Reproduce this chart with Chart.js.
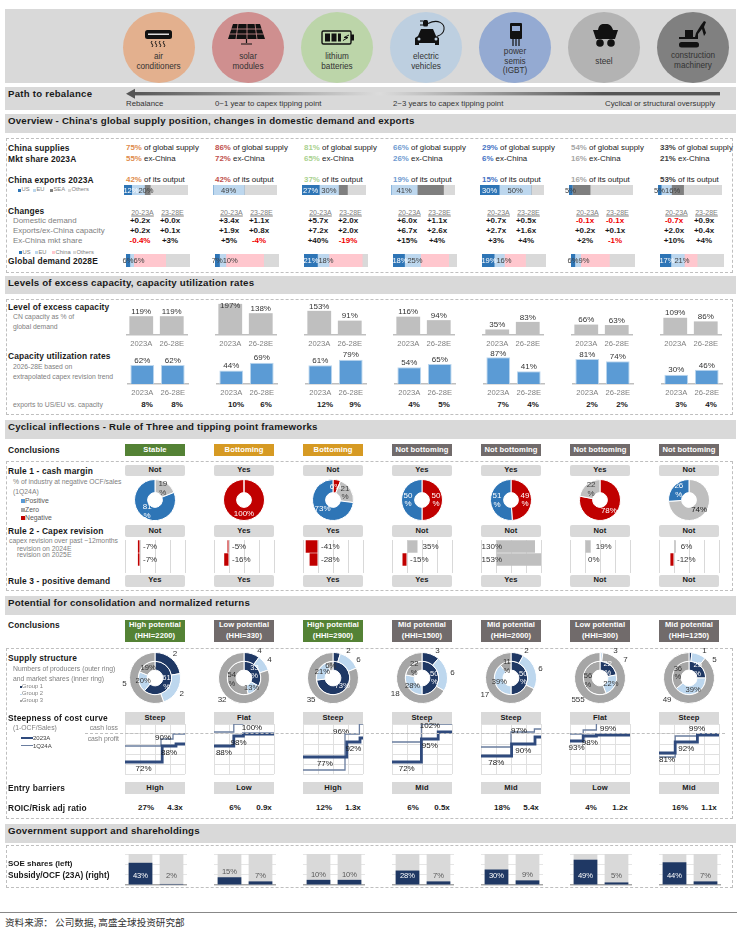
<!DOCTYPE html>
<html>
<head>
<meta charset="utf-8">
<script src="https://cdn.jsdelivr.net/npm/chart.js@4/dist/chart.umd.min.js"></script>
<style>
html,body{margin:0;padding:0;background:#fff}
#page{position:relative;width:740px;height:934px;overflow:hidden;font-family:"Liberation Sans",Arial,sans-serif;color:#1a1a1a}
#page div{position:absolute}
.t{white-space:pre;transform:translateY(-50%);font-size:8.5px;line-height:1}
.c{transform:translate(-50%,-50%);text-align:center}
.r{transform:translate(-100%,-50%)}
.b{font-weight:bold}
.head{font-weight:bold;font-size:8.4px;letter-spacing:.15px}
.path{font-weight:bold;font-size:9.6px;letter-spacing:.25px}
.band{font-weight:bold;font-size:9.7px;letter-spacing:.2px}
.grey{color:#808080;font-size:6.8px}
.tiny{color:#808080;font-size:5.8px}
.box{display:flex;align-items:center;justify-content:center;font-weight:bold;font-size:7.6px;letter-spacing:.1px;text-align:center;line-height:1.4}
.dash{border:1.5px dashed #bfbfbf;box-sizing:border-box}
canvas{position:absolute}
svg{position:absolute;overflow:visible}
</style>
</head>
<body>
<div id="page"></div>
<script>
// industries
const industries = ['air\nconditioners','solar\nmodules','lithium\nbatteries','electric\nvehicles','power\nsemis\n(IGBT)','steel','construction\nmachinery'];
const circleColors = ['#e3b08e','#cf8f8f','#bcd5a9','#bdcfe0','#94aad2','#b3b3b3','#808080'];
const shareColors = ['#e08b4c','#c0504d','#a9d18e','#6f9bd1','#4472c4','#a6a6a6','#404040'];

// overview
const supplyGlobal = [75,86,81,66,29,54,33];
const supplyExChina = [55,72,65,26,6,16,21];
const exportOutput = [42,42,37,19,15,16,53];
const exportUS = [12,0,27,0,30,5,5];
const exportEU = [20,49,30,41,50,0,16];
const exportSEA = [9,0,14,41,0,28,19];
const exportOthers = [59,51,29,18,20,67,60];
const domesticDemand = [['+0.2x','+0.0x'],['+3.4x','+1.1x'],['+5.7x','+2.0x'],['+6.0x','+1.1x'],['+0.7x','+0.5x'],['-0.1x','-0.1x'],['-0.7x','+0.9x']];
const exportsCapacity = [['+0.2x','+0.1x'],['+1.9x','+0.8x'],['+7.2x','+2.0x'],['+6.7x','+2.6x'],['+2.7x','+1.6x'],['+0.2x','+0.1x'],['+2.0x','+0.4x']];
const exChinaShare = [['-0.4%','+3%'],['+5%','-4%'],['+40%','-19%'],['+15%','+4%'],['+3%','+4%'],['+2%','-1%'],['+10%','+4%']];
const demandUS = [6,7,21,18,19,6,17];
const demandEU = [6,10,18,25,16,9,21];
const demandChina = [50,59,52,44,33,45,20];
const demandOthers = [38,24,9,13,32,40,42];

// excess capacity
const periods = ['2023A','26-28E'];
const excessCapacity = [[119,119],[197,138],[153,91],[116,94],[35,83],[66,63],[109,86]];
const utilization = [[62,62],[44,69],[61,79],[54,65],[87,41],[81,74],[30,46]];
const exportsVsCapacity = [[8,8],[10,6],[12,9],[4,5],[7,4],[2,2],[3,4]];

// cyclical inflections
const cycleConclusions = ['Stable','Bottoming','Bottoming','Not bottoming','Not bottoming','Not bottoming','Not bottoming'];
const rule1 = ['Not','Yes','Not','Yes','Yes','Yes','Not'];
const rule2 = ['Not','Yes','Yes','Not','Not','Not','Not'];
const rule3 = ['Yes','Yes','Yes','Yes','Yes','Not','Not'];
const marginNegative = [0,100,6,50,49,78,0];
const marginZero = [19,0,21,0,0,22,74];
const marginPositive = [81,0,73,50,51,0,26];
const marginLabels = [['','19\n%','81\n%'],['100%','',''],['6%','21\n%','73%'],['50\n%','','50\n%'],['49\n%','','51\n%'],['78%','22\n%',''],['','74%','26\n%']];
const revisionYears = ['2024E','2025E'];
const capexRevision = [[-7,-7],[-5,-16],[-41,-28],[35,-15],[130,153],[19,0],[6,-12]];

// consolidation
const potential = ['High potential','Low potential','High potential','Mid potential','Mid potential','Low potential','Mid potential'];
const hhi = [2200,330,2900,1500,2000,300,1250];
const producers = [[2,2,5],[4,4,32],[2,6,35],[3,6,18],[2,6,17],[3,7,555],[1,5,49]];
const marketShares = [[61,20,19],[33,13,54],[73,21,6],[50,28,22],[50,39,11],[22,22,56],[25,39,36]];
const shareLabels = [['61\n%','20%','19%'],['33\n%','13%','54\n%'],['73%','21%','6%'],['50\n%','28%','22\n%'],['50\n%','39%','11\n%'],['22\n%','22%','56\n%'],['25\n%','39%','36\n%']];
const steepness = ['Steep','Flat','Steep','Steep','Steep','Flat','Steep'];
const cost23X = [[0,62,85,100],[0,33,49,100],[0,73,95,100],[0,49,77,100],[0,51,90,100],[0,22,44,100],[0,27,64,100]];
const cost23Y = [[72,88,90,90],[88,98,100,100],[77,92,96,96],[72,95,102,102],[78,90,97,97],[93,98,99,99],[81,92,99,99]];
const cost24X = [[0,60,80,100],[0,33,49],[0,70,94,100],[0,49,100],[0,50,89,100],[0,22,44],[0,27,64,100]];
const cost24Y = [[88,95,100,100],[102,110,110],[64,100,110,110],[92,110,110],[87,102,105,105],[100,104,110],[77,98,100,100]];
const entryBarriers = ['High','Low','High','Mid','Mid','Low','Mid'];
const roic = ['27%','6%','12%','6%','18%','4%','16%'];
const riskRatio = ['4.3x','0.9x','1.3x','0.5x','5.4x','1.2x','1.1x'];

// government support
const soeShares = [43,15,10,28,30,49,44];
const subsidyOcf = [2,7,10,7,9,5,7];
const soeBackdrop = [60,60];

const page = document.getElementById('page');
const STEP = 89;
const FONT = '"Liberation Sans",Arial,sans-serif';

function el(cls,x,y,w,h,style){
    let d = document.createElement('div');
    d.className = cls;
    d.style.left = x+'px';
    d.style.top = y+'px';
    if(w!=null) d.style.width = w+'px';
    if(h!=null) d.style.height = h+'px';
    if(style) Object.assign(d.style,style);
    page.appendChild(d);
    return d;
}
function txt(str,x,y,cls,style){
    let d = el('t '+(cls||''),x,y,null,null,style);
    d.textContent = str;
    return d;
}
function box(str,x,y,w,h,bg,color,radius){
    let d = el('box',x,y,w,h,{background:bg,color:color||'#1a1a1a',borderRadius:(radius||0)+'px'});
    d.textContent = str;
    return d;
}
function label(ctx,str,x,y,font,color,align){
    ctx.save();
    ctx.font = font;
    ctx.fillStyle = color;
    ctx.textAlign = align||'center';
    ctx.textBaseline = 'middle';
    let lines = String(str).split('\n');
    lines.forEach((l,k)=>ctx.fillText(l,x,y+(k-(lines.length-1)/2)*8.5));
    ctx.restore();
}
function makeChart(x,y,w,h,config){
    let c = document.createElement('canvas');
    c.width = w; c.height = h;
    c.style.left = x+'px';
    c.style.top = y+'px';
    page.appendChild(c);
    config.options = config.options||{};
    config.options.responsive = false;
    config.options.animation = false;
    config.options.events = [];
    config.options.plugins = {legend:{display:false},tooltip:{enabled:false}};
    return new Chart(c.getContext('2d'),config);
}

// horizontal 100% bar, first two segments get a label
function shareBar(x,y,w,h,values,colors){
    makeChart(x-12,y,w+24,h,{
        type:'bar',
        data:{labels:[''],datasets:values.map((v,k)=>({data:[v],backgroundColor:colors[k],barPercentage:1,categoryPercentage:1}))},
        options:{
            indexAxis:'y',
            layout:{padding:{left:12,right:12}},
            scales:{x:{display:false,stacked:true,min:0,max:100},y:{display:false,stacked:true}}
        },
        plugins:[{id:'shareLabels',afterDatasetsDraw(chart){
            let ctx = chart.ctx, lastRight = -99;
            [0,1].forEach(k=>{
                let v = values[k];
                if(!v) return;
                let bar = chart.getDatasetMeta(k).data[0];
                let half = v<10 ? 5 : 7;
                let cx = (bar.base+bar.x)/2;
                if(v>=10 && k==0) cx = Math.max(cx,chart.chartArea.left+half);
                if(cx-half<lastRight) cx = lastRight+half+1;
                lastRight = cx+half;
                label(ctx,v+'%',cx,chart.height/2+.5,'7.6px '+FONT,(k==0&&v>=10)?'#fff':'#404040');
            });
        }}]
    });
}

// two columns with a value over each
function pairBars(x,y,w,h,values,max,color,edge){
    makeChart(x,y,w,h,{
        type:'bar',
        data:{labels:periods,datasets:[{data:values,backgroundColor:color,borderColor:edge,borderWidth:edge?{top:1,left:1,right:1}:0,barPercentage:.78,categoryPercentage:1}]},
        options:{
            scales:{
                x:{grid:{display:false,drawTicks:false},border:{color:'#bfbfbf',width:1.5},ticks:{color:'#808080',font:{size:7.6,family:FONT},padding:4,maxRotation:0,autoSkip:false},afterFit(s){s.height=14}},
                y:{display:false,min:0,max:max}
            }
        },
        plugins:[{id:'barValues',afterDatasetsDraw(chart){
            chart.getDatasetMeta(0).data.forEach((bar,k)=>{
                label(chart.ctx,values[k]+'%',bar.x,Math.max(bar.y-4.5,5),'8px '+FONT,'#333');
            });
        }}]
    });
}

// --- top bands ---
el('',5,9,731,74,{background:'#d9d9d9'});
el('',5,87,731,23,{background:'#d9d9d9'});
el('',5,114,731,19,{background:'#d9d9d9'});
el('',5,276,731,18,{background:'#d9d9d9'});
el('',5,420,731,18.5,{background:'#d9d9d9'});
el('',5,596,731,19,{background:'#d9d9d9'});
el('',5,824,731,18.5,{background:'#d9d9d9'});

el('dash',6,138,727,135);
el('dash',6,299,727,116);
el('dash',6,461,727,130);
el('dash',6,648,727,171);
el('dash',6,845,727,43);

txt('Path to rebalance',8,93.5,'path');
txt("Overview - China's global supply position, changes in domestic demand and exports",8,121,'band');
txt('Levels of excess capacity, capacity utilization rates',8,283,'band');
txt('Cyclical inflections - Rule of Three and tipping point frameworks',8,427,'band');
txt('Potential for consolidation and normalized returns',8,602.5,'band');
txt('Government support and shareholdings',8,830.5,'band');

// industry circles
const circleTextY = [[57,66.5],[57,67],[57,67],[57,66.5],[52,61.5,71],[62],[56,66]];
industries.forEach((name,i)=>{
    let cx = 158.5+STEP*i+(i==0?0:.5);
    el('',cx-36,11.5,72,71,{background:circleColors[i],borderRadius:'50%'});
    name.split('\n').forEach((line,k)=>txt(line,cx,circleTextY[i][k],'c',{fontSize:'8.2px',color:'#333'}));
});
const icons = [
 '<rect x="145" y="30" width="27" height="9" rx="2.5" fill="#111"/><rect x="148" y="33.5" width="21" height="1.5" fill="#ddd"/><path d="M152 41q-1.5 1.5 0 3t0 3M156 41q-1.5 1.5 0 3t0 3M160 41q-1.5 1.5 0 3t0 3M164 41q-1.5 1.5 0 3t0 3" stroke="#111" fill="none"/>',
 '<path d="M233 24h27l5 15h-37z" fill="#111"/><path d="M231 29h31M229.500 34h34M238 24l-2 15M247 24v15M255 24l2 15" stroke="#cf8f8f" stroke-width=".8"/><path d="M246.500 39v4M241 44h11" stroke="#111" stroke-width="1.2"/>',
 '<rect x="322" y="31" width="29" height="13" rx="1.5" fill="none" stroke="#111" stroke-width="1.4"/><rect x="351" y="34.500" width="3" height="6" fill="#111"/><rect x="325" y="33.500" width="5" height="8" fill="#111"/><rect x="331.500" y="33.500" width="5" height="8" fill="#111"/><rect x="338" y="33.500" width="3" height="8" fill="#111"/><path d="M349 35l-5 2.500h4l-5 3" stroke="#111" fill="none"/>',
 '<path d="M415 45v-7l3-2 3-7h12l3 7 3 2v7h-4v-2h-16v2z" fill="#111"/><circle cx="419" cy="39" r="1.500" fill="#bdcfe0"/><circle cx="436" cy="39" r="1.500" fill="#bdcfe0"/><path d="M420 21h3M420 25h3" stroke="#111"/><rect x="423" y="20" width="5" height="6.500" rx="1.5" fill="#111"/><path d="M428 23.500c10-5 17 0 16 6s-6 6-7 7" stroke="#111" fill="none" stroke-width="1.1"/>',
 '<rect x="510" y="23" width="12" height="16" rx="1" fill="#111"/><rect x="512" y="26" width="8" height="5" fill="#94aad2"/><path d="M513 39v7M516 39v7M519 39v7" stroke="#111" stroke-width="1.2"/>',
 '<path d="M598 30c1-6 4-6 7-6s6 0 8 6z" fill="#111"/><path d="M593 30h25l-3 9h-19z" fill="#111"/><circle cx="600" cy="43" r="3.800" fill="#111"/><circle cx="611" cy="43" r="3.800" fill="#111"/>',
 '<path d="M679 37h16l1-4 5-8 3-4 2 1-2 5 2 6-2 3-2-7-4 5v5h-19z" fill="#111"/><rect x="685" y="30" width="8" height="7" fill="#111"/><rect x="679" y="42" width="20" height="5.500" rx="2.500" fill="#111"/>'
];
let iconSvg = document.createElementNS('http://www.w3.org/2000/svg','svg');
iconSvg.setAttribute('width','740');
iconSvg.setAttribute('height','60');
iconSvg.style.left = '0';
iconSvg.style.top = '0';
iconSvg.innerHTML = icons.join('');
page.appendChild(iconSvg);

// path arrow
let arrow = document.createElementNS('http://www.w3.org/2000/svg','svg');
arrow.setAttribute('width','740');
arrow.setAttribute('height','110');
arrow.style.left = '0';
arrow.style.top = '0';
arrow.innerHTML = '<defs><linearGradient id="g"><stop offset="0" stop-color="#555"/><stop offset=".42" stop-color="#dcdcdc"/><stop offset=".8" stop-color="#555"/><stop offset="1" stop-color="#555"/></linearGradient></defs><rect x="133" y="92" width="587" height="3.4" fill="url(#g)"/><path d="M126 93.700l9-5v10z" fill="#555"/>';
page.appendChild(arrow);
txt('Rebalance',126,104,'',{fontSize:'7.8px',color:'#333'});
txt('0~1 year to capex tipping point',215,104,'',{fontSize:'7.8px',color:'#333'});
txt('2~3 years to capex tipping point',393,104,'',{fontSize:'7.8px',color:'#333'});
txt('Cyclical or structural oversupply',605,104,'',{fontSize:'7.8px',color:'#333'});

// --- overview ---
txt('China supplies',8,148,'head');
txt('Mkt share 2023A',8,159,'head');
txt('China exports 2023A',8,180,'head');
txt('Changes',8,211,'head');
txt('Domestic demand',13,221,'grey',{fontSize:'7.9px'});
txt('Exports/ex-China capacity',13,231,'grey',{fontSize:'7.9px'});
txt('Ex-China mkt share',13,241,'grey',{fontSize:'7.9px'});
txt('Global demand 2028E',8,261,'head');

function tinyLegend(y,items){
    items.forEach(it=>{
        el('',it[0],y-1.5,3,3,{background:it[2]});
        txt(it[1],it[0]+3.5,y,'tiny');
    });
}
tinyLegend(190,[[18,'US','#2e75b6'],[33,'EU','#bdd7ee'],[50,'SEA','#7f7f7f'],[68,'Others','#d9d9d9']]);
tinyLegend(252.5,[[19,'US','#2e75b6'],[35,'EU','#bdd7ee'],[52,'China','#ffc7ce'],[73,'Others','#d9d9d9']]);

for(let i=0;i<7;i++){
    let dx = STEP*i;
    [[148,supplyGlobal[i]+'%',' of global supply'],[158.5,supplyExChina[i]+'%',' ex-China'],[179.500,exportOutput[i]+'%',' of its output']].forEach(r=>{
        let t = txt('',126+dx,r[0],'',{fontSize:'7.900px'});
        let s = document.createElement('span');
        s.style.cssText = 'font-weight:bold;color:'+shareColors[i];
        s.textContent = r[1];
        t.appendChild(s);
        t.appendChild(document.createTextNode(r[2]));
    });
    shareBar(124+dx,185,64,10,[exportUS[i],exportEU[i],exportSEA[i],exportOthers[i]],['#2e75b6','#bdd7ee','#7f7f7f','#d9d9d9']);
    shareBar(126+dx,254,64,13,[demandUS[i],demandEU[i],demandChina[i],demandOthers[i]],['#2e75b6','#bdd7ee','#ffc7ce','#d9d9d9']);

    txt('20-23A',142.5+dx,211.500,'c',{fontSize:'7px',color:'#808080',textDecoration:'underline'});
    txt('23-28E',172.5+dx,211.500,'c',{fontSize:'7px',color:'#808080',textDecoration:'underline'});
    [domesticDemand,exportsCapacity,exChinaShare].forEach((row,r)=>{
        row[i].forEach((v,k)=>{
            txt(v,(k?170:140)+dx,221+r*10,'c b',{fontSize:'8px',color:v[0]=='-'?'#f00000':'#1a1a1a'});
        });
    });

    // --- excess capacity ---
    pairBars(126+dx,301,62,48,excessCapacity[i],34/0.158,'#bfbfbf');
    pairBars(126.5+dx,349,62,49,utilization[i],35/0.308,'#5b9bd5','#bdd7ee');
    txt(exportsVsCapacity[i][0]+'%',147+dx,405,'c b',{fontSize:'8px'});
    txt(exportsVsCapacity[i][1]+'%',177+dx,405,'c b',{fontSize:'8px'});

    // --- cyclical ---
    let bg = cycleConclusions[i]=='Stable' ? '#548235' : cycleConclusions[i]=='Bottoming' ? '#d69a23' : '#716b6b';
    box(cycleConclusions[i],125+dx,444,60,12,bg,'#fff');
    box(rule1[i],125+dx,465,60,11,'#d9d9d9','#1a1a1a',2);
    box(rule2[i],125+dx,525,60,12,'#d9d9d9','#1a1a1a',2);
    box(rule3[i],125+dx,575,60,11.5,'#d9d9d9','#1a1a1a',2);

    let pieValues = [marginNegative[i],marginZero[i],marginPositive[i]];
    let pieText = marginLabels[i];
    makeChart(129.5+dx,475,50,50,{
        type:'doughnut',
        data:{labels:['Negative','Zero','Positive'],datasets:[{data:pieValues,backgroundColor:['#c00000','#bfbfbf','#2e75b6'],borderColor:'#fff',borderWidth:1}]},
        options:{cutout:'36%',layout:{padding:4}},
        plugins:[{id:'pieValues',afterDatasetsDraw(chart){
            chart.getDatasetMeta(0).data.forEach((arc,k)=>{
                if(!pieText[k]) return;
                let p = arc.getCenterPoint();
                label(chart.ctx,pieText[k],p.x,p.y,'8px '+FONT,k==1?(pieValues[k]>50?'#1a1a1a':'#404040'):'#fff');
            });
        }}]
    });

    let revision = capexRevision[i];
    makeChart(121+dx,537,68,36,{
        type:'bar',
        data:{labels:revisionYears,datasets:[{data:revision,backgroundColor:revision.map(v=>v<0?'#c00000':'#bfbfbf'),barPercentage:.96,categoryPercentage:1}]},
        options:{
            indexAxis:'y',
            layout:{padding:{left:4,right:4,top:3}},
            scales:{
                x:{min:-50,max:150,ticks:{display:false,stepSize:50},grid:{color:'#d9d9d9',tickLength:7},border:{display:false}},
                y:{display:false}
            }
        },
        plugins:[{id:'revisionValues',afterDatasetsDraw(chart){
            let zero = chart.scales.x.getPixelForValue(0);
            chart.getDatasetMeta(0).data.forEach((bar,k)=>{
                let v = revision[k], font = '8px '+FONT;
                if(v>100) label(chart.ctx,v+'%',zero+6,bar.y,font,'#333','right');
                else if(v>0) label(chart.ctx,v+'%',bar.x+5,bar.y,font,'#333','left');
                else label(chart.ctx,v+'%',zero+3,bar.y,font,'#333','left');
            });
        }}]
    });

    // --- consolidation ---
    box(potential[i]+'\n('+'HHI='+hhi[i]+')',125+dx,620,60,22,/High/.test(potential[i])?'#548235':'#716b6b','#fff').style.whiteSpace = 'pre';
    let counts = producers[i], inner = marketShares[i], innerText = shareLabels[i];
    makeChart(114.5+dx,637.7,80,80,{
        type:'doughnut',
        data:{labels:['Group 1','Group 2','Group 3'],datasets:[
            {data:counts,backgroundColor:['#1f3864','#bdd7ee','#a6a6a6'],borderColor:'#fff',borderWidth:1},
            {data:inner,backgroundColor:['#1f3864','#bdd7ee','#a6a6a6'],borderColor:'#fff',borderWidth:1}
        ]},
        options:{cutout:'31%',layout:{padding:14}},
        plugins:[{id:'ringValues',afterDatasetsDraw(chart){
            let ctx = chart.ctx;
            chart.getDatasetMeta(1).data.forEach((arc,k)=>{
                let p = arc.getCenterPoint();
                label(ctx,innerText[k],p.x,p.y,'7.6px '+FONT,k==0?'#fff':'#333');
            });
            let outer = chart.getDatasetMeta(0).data;
            let mid = outer.map(a=>((a.startAngle+a.endAngle)/2+Math.PI/2)*180/Math.PI);
            let a0 = Math.max(mid[0],30), a1 = Math.max(mid[1],a0+25), a2 = Math.max(mid[2],225);
            let cx = chart.chartArea.left+chart.chartArea.width/2, cy = chart.chartArea.top+chart.chartArea.height/2;
            [a0,a1,a2].forEach((deg,k)=>{
                let rad = deg*Math.PI/180;
                label(ctx,counts[k],cx+31*Math.sin(rad),cy-31*Math.cos(rad),'8px '+FONT,'#333');
            });
        }}]
    });

    box(steepness[i],125+dx,712,60,12,'#d9d9d9');
    let x23 = cost23X[i], y23 = cost23Y[i], x24 = cost24X[i], y24 = cost24Y[i];
    makeChart(123+dx,722,64,54,{
        type:'line',
        data:{datasets:[
            {data:x23.map((v,k)=>({x:v,y:y23[k]})),stepped:true,borderColor:'#2f4a7d',borderWidth:2.8,pointRadius:0},
            {data:x24.map((v,k)=>({x:v,y:y24[k]})),stepped:true,borderColor:'#6a7d9f',borderWidth:1.3,pointRadius:0}
        ]},
        options:{
            layout:{padding:2},
            scales:{
                x:{type:'linear',min:0,max:100,ticks:{display:false,stepSize:25},grid:{color:'#e0e0e0',drawTicks:false},border:{display:false}},
                y:{min:60,max:110,ticks:{display:false,stepSize:10},grid:{color:'#e0e0e0',drawTicks:false},border:{display:false}}
            }
        },
        plugins:[{id:'stepValues',afterDatasetsDraw(chart){
            let sx = chart.scales.x, sy = chart.scales.y;
            [0,1,2].forEach(k=>{
                let cx = (sx.getPixelForValue(x23[k])+sx.getPixelForValue(x23[k+1]))/2;
                if(k==2) cx = Math.min(cx,chart.chartArea.right-22);
                let cy = sy.getPixelForValue(y23[k])+(k==2?-6:6.5);
                label(chart.ctx,y23[k]+'%',cx,cy,'8px '+FONT,'#1a1a1a');
            });
        }}]
    });

    box(entryBarriers[i],125+dx,782,60,12,'#d9d9d9');
    txt(roic[i],146+dx,808,'c b',{fontSize:'8px'});
    txt(riskRatio[i],175+dx,808,'c b',{fontSize:'8px'});

    // --- government ---
    let soe = [soeShares[i],subsidyOcf[i]];
    makeChart(125+dx,853,62,34,{
        type:'bar',
        data:{labels:['SOE shares','Subsidy/OCF'],datasets:[
            {data:soe,backgroundColor:'#1f3864',grouped:false,order:0,barPercentage:.765,categoryPercentage:1},
            {data:soeBackdrop,backgroundColor:'#d9d9d9',grouped:false,order:1,barPercentage:.765,categoryPercentage:1}
        ]},
        options:{
            layout:{padding:{top:1,bottom:2}},
            scales:{
                x:{ticks:{display:false},grid:{display:false,drawTicks:false},border:{color:'#a6a6a6',width:1.2}},
                y:{min:0,max:60,ticks:{display:false,stepSize:20},grid:{color:'#e6e6e6',drawTicks:false},border:{display:false}}
            }
        },
        plugins:[{id:'soeValues',afterDatasetsDraw(chart){
            chart.getDatasetMeta(0).data.forEach((bar,k)=>{
                let bottom = chart.chartArea.bottom;
                let cy = soe[k]>=20 ? bottom-9.5 : Math.min(bar.y-5,bottom-9);
                label(chart.ctx,soe[k]+'%',bar.x,cy,'7.6px '+FONT,soe[k]>=20?'#fff':'#595959');
            });
        }}]
    });
}

// --- left column texts, excess capacity ---
txt('Level of excess capacity',8,306.500,'head');
txt('CN capacity as % of',13,317,'grey');
txt('global demand',13,327,'grey');
txt('Capacity utilization rates',8,356,'head');
txt('2026-28E based on',13,366.500,'grey');
txt('extrapolated capex revision trend',13,376.500,'grey');
txt('exports to US/EU vs. capacity',13,405,'grey');

// cyclical
txt('Conclusions',8,450,'head');
txt('Rule 1 - cash margin',8,471,'head');
txt('% of industry at negative OCF/sales',13,482,'grey');
txt('(1Q24A)',13,491.500,'grey');
[['Positive','#5b9bd5',501],['Zero','#a6a6a6',509.5],['Negative','#c00000',518]].forEach(r=>{
    el('',20.500,r[2]-2,4,4,{background:r[1]});
    txt(r[0],25,r[2],'',{fontSize:'6.800px',color:'#595959'});
});
txt('Rule 2 - Capex revision',8,531,'head');
txt('capex revision over past ~12months',9,541,'grey');
txt('revision on 2024E',17,549,'grey');
txt('revision on 2025E',17,555,'grey');
txt('Rule 3 - positive demand',8,581,'head');

// consolidation
txt('Conclusions',8,625,'head');
txt('Supply structure',8,658,'head');
txt('Numbers of producers (outer ring)',13,668.700,'grey');
txt('and market shares (inner ring)',13,679,'grey');
[['Group 1','#1f3864',686.7],['Group 2','#bdd7ee',694],['Group 3','#a6a6a6',700.7]].forEach(r=>{
    el('',20,r[2]-.5,1.5,1.5,{background:r[1]});
    txt(r[0],22,r[2],'tiny');
});
txt('Steepness of cost curve',8,718,'head');
txt('(1-OCF/Sales)',13,728,'grey');
el('',20.500,737,12,2,{background:'#2f4a7d'});
txt('2023A',33,738,'',{fontSize:'6px',color:'#404040'});
el('',20.500,745,12,1.2,{background:'#6a7d9f'});
txt('1Q24A',33,745.500,'',{fontSize:'6px',color:'#404040'});
txt('cash loss',118,727.700,'grey r');
txt('cash profit',119,738.700,'grey r');
el('',85,733,640,0,{borderTop:'1.2px dashed #bfbfbf',zIndex:5});
txt('Entry barriers',8,788,'head');
txt('ROIC/Risk adj ratio',8,808,'head');

// government
txt('SOE shares (left)',8,864,'b',{fontSize:'8px'});
txt('Subsidy/OCF (23A) (right)',8,875,'b',{fontSize:'8.300px'});

// source
el('',0,912,737,0,{borderTop:'1.5px solid #888'});
txt('资料来源： 公司数据, 高盛全球投资研究部',5,923,'',{fontFamily:'"Noto Sans CJK SC"',fontSize:'9.6px',color:'#333'});
</script>
</body>
</html>
